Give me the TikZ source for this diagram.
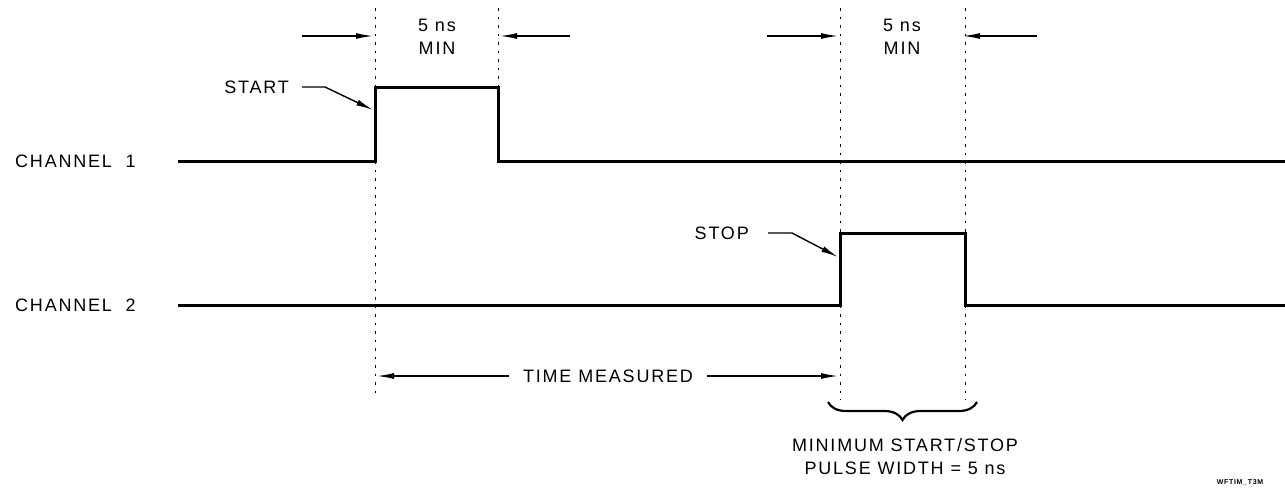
\documentclass[tikz,border=0pt]{standalone}
\usepackage{fontspec}
\setmainfont{Liberation Sans}[LetterSpace=10]
\usetikzlibrary{arrows.meta,decorations.pathreplacing,positioning}
\begin{document}
\begin{tikzpicture}[x=1pt, y=-1pt, font=\fontsize{18}{23}\selectfont,
  wave/.style={line width=3pt, line join=miter},
  guide/.style={line width=1pt, dash pattern=on 2.5pt off 6pt},
  dim/.style={line width=1.4pt, -{Latex[length=17pt,width=6pt]}},
  lbl/.style={inner sep=0pt}]
  \useasboundingbox (0,0) rectangle (1285,491);
  % channel names
  \node[lbl, anchor=west] (ch1) at (15,161) {CHANNEL\ \ 1};
  \node[lbl, anchor=west] (ch2) at (15,305) {CHANNEL\ \ 2};
  % pulse edges
  \coordinate (r1) at (375,87);
  \coordinate (f1) at (498,87);
  \coordinate (r2) at (840,233);
  \coordinate (f2) at (965,233);
  \coordinate (e1) at (1285,161);
  \coordinate (e2) at (1285,305);
  \draw[wave] (178,161) -- (r1 |- e1) -- (r1) -- (f1) -- (f1 |- e1) -- (e1);
  \draw[wave] (178,305) -- (r2 |- e2) -- (r2) -- (f2) -- (f2 |- e2) -- (e2);
  % dotted guides
  \draw[guide] (375,8) -- (375,396);
  \draw[guide] (498,8) -- (f1);
  \draw[guide] (840,8) -- (840,400);
  \draw[guide] (965,8) -- (965,400);
  % 5 ns min widths
  \node[lbl, align=center] (w1) at (437,37) {5 ns\\MIN};
  \node[lbl, align=center] (w2) at (902,37) {5 ns\\MIN};
  \coordinate (a1) at (373,36);
  \coordinate (b1) at (500,36);
  \coordinate (a2) at (838,36);
  \coordinate (b2) at (963,36);
  \draw[dim] (302,36) -- (a1);
  \draw[dim] (570,36) -- (b1);
  \draw[dim] (767,36) -- (a2);
  \draw[dim] (1037,36) -- (b2);
  % start / stop
  \node[lbl, anchor=east] (start) at (289,87) {START};
  \node[lbl, anchor=east] (stop) at (749,233) {STOP};
  \coordinate (s1) at (373,110);
  \coordinate (s2) at (838,257);
  \draw[dim] ([xshift=13pt]start.east) -- ++(23,0) -- (s1);
  \draw[dim] ([xshift=19pt]stop.east) -- ++(24,0) -- (s2);
  % time measured
  \node[lbl] (tm) at (608,376) {TIME MEASURED};
  \coordinate (m1) at (377,376);
  \coordinate (m2) at (838,376);
  \draw[dim] ([xshift=-14pt]tm.west) -- (m1);
  \draw[dim] ([xshift=14pt]tm.east) -- (m2);
  % minimum pulse width
  \draw[line width=2.2pt, decorate, decoration={brace, mirror, amplitude=18pt}]
    (828,402) -- (977,402);
  \node[lbl, align=center] (pw) at (905,457) {MINIMUM START/STOP\\PULSE WIDTH = 5 ns};
  \node[lbl, font=\fontsize{7}{8}\selectfont\bfseries] (tag) at (1240,482) {WFTIM\_T3M};
\end{tikzpicture}
\end{document}
